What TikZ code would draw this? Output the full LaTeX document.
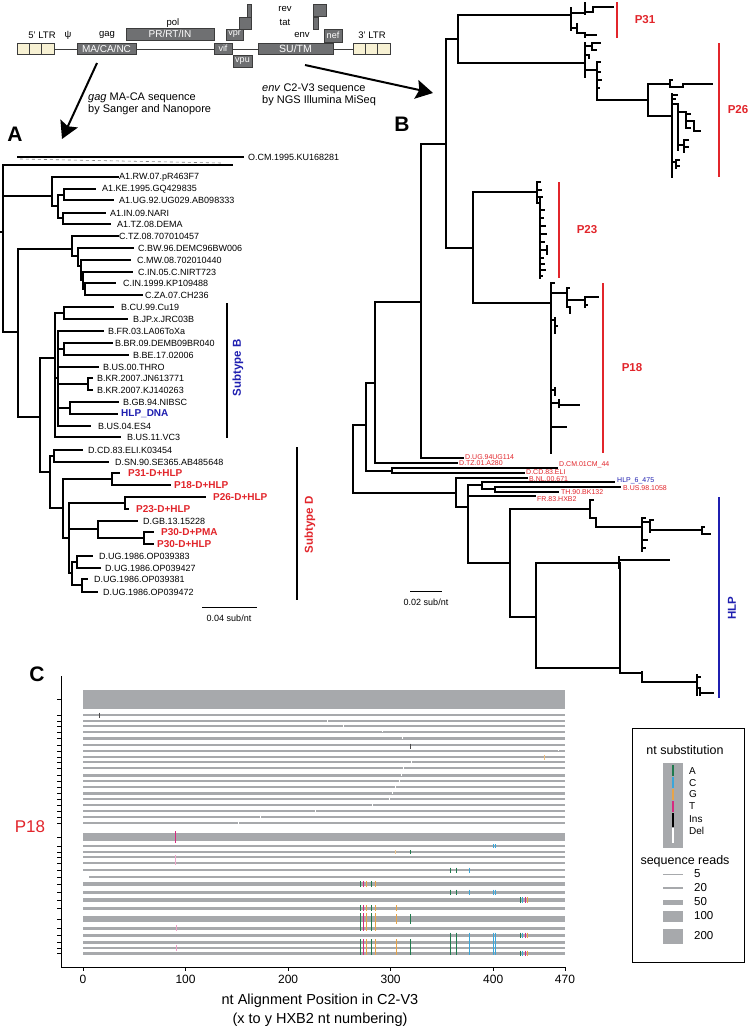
\documentclass[tikz,border=0pt]{standalone}
\usepackage{fontspec}
\setmainfont{Liberation Sans}
\usetikzlibrary{arrows.meta}
\definecolor{redlab}{HTML}{E2252B}
\definecolor{bluelab}{HTML}{1F1FB0}
\definecolor{genegray}{HTML}{6F7072}
\definecolor{geneedge}{HTML}{3C3C3C}
\definecolor{ltrfill}{HTML}{F7F1D3}
\definecolor{readgray}{HTML}{A7A9AC}
\definecolor{cA}{HTML}{1F7A4D}
\definecolor{cC}{HTML}{3AA6DA}
\definecolor{cG}{HTML}{E8A448}
\definecolor{cT}{HTML}{D62A80}
\newcommand\trh[3]{\draw[tr] (#1,#3) -- (#2,#3);}
\newcommand\trv[3]{\draw[tr] (#1,#2) -- (#1,#3);}
\newcommand\mk[4]{\draw[#4, line width=0.9pt] (#1,#2-#3) -- (#1,#2+#3);}
\newcommand\gOne[2]{\mk{360}{#1}{#2}{cA}\mk{363}{#1}{#2}{cT}\mk{366}{#1}{#2}{cG}\mk{371}{#1}{#2}{cA}\mk{375}{#1}{#2}{cG}}
\newcommand\gThree[2]{\mk{450}{#1}{#2}{cA}\mk{456}{#1}{#2}{cA}\mk{469}{#1}{#2}{cC}}
\newcommand\gFour[2]{\mk{493}{#1}{#2}{cC}\mk{495.5}{#1}{#2}{cC}}
\newcommand\gFive[2]{\mk{520}{#1}{#2}{cA}\mk{522.5}{#1}{#2}{cC}\mk{525}{#1}{#2}{cT}\mk{527.5}{#1}{#2}{cG}}
\begin{document}
\begin{tikzpicture}[x=1pt,y=-1pt,
  tr/.style={line width=1.1pt, black, line cap=rect},
  taxA/.style={anchor=west, inner sep=0pt, font=\fontsize{9}{10}\selectfont},
  taxAr/.style={anchor=west, inner sep=0pt, text=redlab, font=\fontsize{10}{11}\selectfont\bfseries},
  taxB/.style={anchor=west, inner sep=0pt, text=redlab, font=\fontsize{7}{8}\selectfont},
  gene/.style={draw=geneedge, line width=0.6pt, fill=genegray, text=white, inner sep=0pt, font=\fontsize{9}{10}\selectfont},
  ltr/.style={draw=geneedge, line width=0.6pt, fill=ltrfill, minimum width=12.33pt, minimum height=11pt, inner sep=0pt},
  glab/.style={inner sep=0pt, font=\fontsize{9.5}{10}\selectfont},
  panel/.style={inner sep=0pt, font=\fontsize{21}{21}\selectfont\bfseries},
  clab/.style={inner sep=0pt, font=\fontsize{11.5}{12}\selectfont\bfseries, rotate=90},
  plab/.style={inner sep=0pt, text=redlab, font=\fontsize{11.5}{12}\selectfont\bfseries},
  bigarrow/.style={line width=2pt, -{Stealth[length=17pt,width=19pt,inset=3pt]}},
  leg/.style={inner sep=0pt, font=\fontsize{12.5}{13}\selectfont},
  legs/.style={anchor=west, inner sep=0pt, font=\fontsize{10}{11}\selectfont}
]
\useasboundingbox (0,0) rectangle (750,1031);
\fill[white] (0,0) rectangle (750,1031);

% ================= genome map =================
\draw[geneedge, line width=0.8pt] (54,49) -- (77,49) (136,49) -- (214,49) (232,49) -- (258,49) (333,49) -- (353,49);
\foreach \i/\x in {1/23.2,2/35.5,3/47.8} {\node[ltr] (l5\i) at (\x,48.5) {};}
\foreach \i/\x in {1/359.2,2/371.5,3/383.8} {\node[ltr] (l3\i) at (\x,48.5) {};}
\node[gene, minimum width=59pt, minimum height=11pt, font=\fontsize{10}{10}\selectfont] (ma) at (106.5,48.5) {MA/CA/NC};
\node[gene, minimum width=88pt, minimum height=12pt, font=\fontsize{10}{10}\selectfont] (pr) at (170,34) {PR/RT/IN};
\node[gene, minimum width=12pt, minimum height=12pt] (vpr2) at (245,23) {};
\node[gene, minimum width=4pt, minimum height=13pt] (vpr3) at (249,10.5) {};
\node[gene, minimum width=17pt, minimum height=11pt] (vpr) at (234.5,34.5) {vpr};
\node[gene, minimum width=18pt, minimum height=11pt] (vif) at (223,48.5) {vif};
\node[gene, minimum width=19pt, minimum height=12pt] (vpu) at (242.5,61) {vpu};
\node[gene, minimum width=75pt, minimum height=11pt, font=\fontsize{10.5}{10}\selectfont] (su) at (295.5,48.5) {SU/TM};
\node[gene, minimum width=18pt, minimum height=13pt] (nef) at (333,35.5) {nef};
\node[gene, minimum width=13pt, minimum height=12pt] (rev) at (319.5,10) {};
\node[gene, minimum width=5pt, minimum height=12pt] (tat) at (315.5,23) {};
\node[glab] (t5) at (42,35) {5' LTR};
\node[glab] (tpsi) at (68,35) {ψ};
\node[glab] (tgag) at (107,35) {gag};
\node[glab] (tpol) at (173,23) {pol};
\node[glab] (tenv) at (302,35) {env};
\node[glab] (trev) at (285,9) {rev};
\node[glab] (ttat) at (285,22) {tat};
\node[glab] (t3) at (372,35) {3' LTR};

% arrows
\coordinate (aA0) at (97,63); \coordinate (aA1) at (62,139);
\coordinate (aB0) at (305,65); \coordinate (aB1) at (433,93);
\draw[bigarrow] (aA0) -- (aA1);
\draw[bigarrow] (aB0) -- (aB1);
\node[anchor=west, inner sep=0pt, font=\fontsize{11}{12}\selectfont] (txA1) at (88,98) {\textit{gag} MA-CA sequence};
\node[anchor=west, inner sep=0pt, font=\fontsize{11}{12}\selectfont] (txA2) at (88,110) {by Sanger and Nanopore};
\node[anchor=west, inner sep=0pt, font=\fontsize{11}{12}\selectfont] (txB1) at (262,89) {\textit{env} C2-V3 sequence};
\node[anchor=west, inner sep=0pt, font=\fontsize{11}{12}\selectfont] (txB2) at (262,101) {by NGS Illumina MiSeq};

% panel letters
\node[panel] (pA) at (15,134) {A};
\node[panel] (pB) at (402,124) {B};
\node[panel] (pC) at (37,674) {C};

% ================= tree A =================
\trh{18}{243}{157}
\draw[gray, dashed, line width=0.6pt] (20,159) -- (222,163);
\trh{3}{232}{165}
\trv{3}{165}{332} \trh{0}{3}{232}
\trh{3}{52}{196} \trh{3}{18}{332}
% A1
\trv{52}{177}{206} \trh{52}{118}{177} \trh{52}{58}{206}
\trv{58}{195}{218} \trh{58}{64}{195} \trv{64}{189}{200} \trh{64}{95}{189} \trh{64}{113}{200}
\trh{58}{63}{218} \trv{63}{213}{224} \trh{63}{105}{213} \trh{63}{110}{224}
% main
\trv{18}{249}{417} \trh{18}{72}{249} \trh{18}{40}{417}
% C
\trv{72}{236}{256} \trh{72}{118}{236} \trh{72}{78}{256}
\trv{78}{248}{266} \trh{78}{133}{248} \trh{78}{81}{266}
\trv{81}{260}{280} \trh{81}{130}{260} \trh{81}{83}{280}
\trv{83}{272}{289} \trh{83}{132}{272} \trh{83}{85}{289}
\trv{85}{283}{295} \trh{85}{115}{283} \trh{85}{142}{295}
% B + D
\trv{40}{358}{472} \trh{40}{55}{358} \trh{40}{50}{472}
\trv{55}{313}{437} \trh{55}{64}{313} \trv{64}{307}{319} \trh{64}{113}{307} \trh{64}{127}{319}
\trh{55}{120}{437} \trh{55}{58}{378}
\trv{58}{331}{426} \trh{58}{103}{331}
\trh{58}{64}{349} \trv{64}{343}{355} \trh{64}{112}{343} \trh{64}{128}{355}
\trh{58}{98}{367}
\trh{58}{88}{384} \trv{88}{378}{390} \trh{88}{92}{378} \trh{88}{92}{390}
\trh{58}{70}{408} \trv{70}{402}{414} \trh{70}{118}{402} \trh{70}{117}{414}
\trh{58}{90}{426}
% D
\trv{50}{456}{508} \trh{50}{54}{456} \trv{54}{450}{462} \trh{54}{82}{450} \trh{54}{108}{462}
\trh{50}{63}{508}
\trv{63}{479}{538} \trh{63}{112}{479} \trv{112}{473}{485} \trh{112}{119}{473} \trh{112}{170}{485}
\trh{63}{69}{538}
\trv{69}{503}{573} \trh{69}{125}{503} \trv{125}{497}{509} \trh{125}{205}{497} \trh{125}{128}{509}
\trh{69}{98}{529} \trv{98}{521}{538} \trh{98}{137}{521} \trh{98}{144}{538}
\trv{144}{532}{544} \trh{144}{153}{532} \trh{144}{153}{544}
\trh{69}{72}{573} \trv{72}{562}{585}
\trh{72}{77}{562} \trv{77}{556}{568} \trh{77}{92}{556} \trh{77}{100}{568}
\trh{72}{82}{585} \trv{82}{579}{592} \trh{82}{87}{579} \trh{82}{97}{592}

\foreach \x/\y/\t [count=\i] in {248/157/O.CM.1995.KU168281, 119/177/A1.RW.07.pR463F7,
  102/189/A1.KE.1995.GQ429835, 119/200/A1.UG.92.UG029.AB098333, 110/213/A1.IN.09.NARI,
  117/224/A1.TZ.08.DEMA, 119/236/C.TZ.08.707010457, 138/248/C.BW.96.DEMC96BW006,
  137/260/C.MW.08.702010440, 138/272/C.IN.05.C.NIRT723, 123/283/C.IN.1999.KP109488,
  145/295/C.ZA.07.CH236, 121/307/B.CU.99.Cu19, 133/319/B.JP.x.JRC03B,
  108/331/B.FR.03.LA06ToXa, 115/343/B.BR.09.DEMB09BR040, 133/355/B.BE.17.02006,
  103/367/B.US.00.THRO, 97/378/B.KR.2007.JN613771, 97/390/B.KR.2007.KJ140263,
  123/402/B.GB.94.NIBSC, 98/426/B.US.04.ES4, 127/437/B.US.11.VC3,
  88/450/D.CD.83.ELI.K03454, 115/462/D.SN.90.SE365.AB485648, 143/521/D.GB.13.15228,
  99/556/D.UG.1986.OP039383, 105/568/D.UG.1986.OP039427, 94/579/D.UG.1986.OP039381,
  103/592/D.UG.1986.OP039472}
  {\node[taxA] (ta\i) at (\x,\y) {\t};}
\foreach \x/\y/\t [count=\i] in {128/473/P31-D+HLP, 174/485/P18-D+HLP, 213/497/P26-D+HLP,
  136/509/P23-D+HLP, 161/532/P30-D+PMA, 157/544/P30-D+HLP}
  {\node[taxAr] (tr\i) at (\x,\y) {\t};}
\node[taxAr, text=bluelab] (thlp) at (121,414) {HLP\_DNA};

% subtype bars
\draw[line width=2.2pt] (227,303) -- (227,438);
\node[clab, text=bluelab] (sB) at (238,368) {Subtype B};
\draw[line width=2.2pt] (297,447) -- (297,600);
\node[clab, text=redlab] (sD) at (310,525) {Subtype D};
% scale A
\draw[line width=1pt] (202,607) -- (257,607);
\node[inner sep=0pt, font=\fontsize{9}{10}\selectfont] (scA) at (229,618) {0.04 sub/nt};

% ================= tree B =================
\trv{353}{425}{493} \trh{353}{366}{425} \trh{353}{456}{493}
\trv{366}{383}{471} \trh{366}{375}{383} \trh{366}{392}{471}
\trv{392}{468}{473} \trh{392}{557}{468} \trh{392}{524}{473}
\trv{375}{302}{463} \trh{375}{421}{302} \trh{375}{457}{463}
\trv{421}{144}{458} \trh{421}{446}{144} \trh{421}{463}{458}
\trv{446}{39}{248} \trh{446}{458}{39} \trh{446}{473}{248}
\trv{458}{15}{63} \trh{458}{571}{15} \trh{458}{585}{63}
\trv{473}{192}{303} \trh{473}{537}{192} \trh{473}{550}{303}
% P31
\trv{571}{8}{30}
\trh{571}{585}{13} \trv{585}{3}{14} \trh{585}{593}{12} \trv{593}{7}{12} \trh{593}{613}{7}
\trh{571}{577}{28} \trv{577}{24}{33} \trh{577}{585}{33} \trv{585}{33}{37} \trh{585}{596}{35}
% P26
\trv{585}{43}{77}
\trh{585}{592}{46} \trv{592}{43}{50} \trh{592}{600}{43} \trh{592}{596}{50}
\trh{585}{589}{55} \trv{589}{55}{58}
\trh{585}{597}{70}
\trv{597}{62}{100} \trh{597}{600}{62} \trh{597}{600}{72} \trh{597}{601}{80} \trh{597}{599}{88}
\trh{597}{648}{100}
\trv{648}{84}{116} \trh{648}{670}{84} \trv{670}{80}{87} \trh{670}{672}{80} \trh{670}{683}{87}
\trv{683}{84}{87} \trh{683}{712}{84}
\trh{648}{672}{116}
\trv{672}{94}{177} \trh{672}{677}{95} \trh{672}{675}{99}
\trh{672}{678}{104} \trv{678}{104}{150}
\trh{678}{686}{112} \trv{686}{112}{128} \trh{686}{690}{114} \trh{686}{694}{121} \trv{694}{121}{131} \trh{694}{700}{131} \trh{686}{690}{128}
\trh{678}{684}{145} \trv{684}{140}{152} \trh{684}{688}{140} \trh{684}{688}{147}
\trh{672}{676}{162} \trv{676}{160}{168} \trh{676}{679}{160} \trh{676}{679}{166}
% P23
\trv{537}{182}{203} \trh{537}{540}{182} \trh{537}{541}{190} \trh{537}{542}{197} \trh{537}{540}{203}
\trv{540}{197}{278}
\foreach \y/\l in {210/4,218/3,226/5,234/6,242/4,250/7,258/3,264/4,270/5,276/2} {\draw[tr] (540,\y) -- ++(\l,0);}
\trv{547}{246}{254}
% P18
\trv{551}{283}{453} \trh{551}{554}{283}
\trh{551}{567}{293} \trv{567}{288}{307} \trh{567}{569}{288}
\trh{567}{585}{300} \trv{585}{297}{307} \trh{585}{598}{297} \trh{585}{587}{305} \trh{567}{570}{307} \trv{570}{307}{313}
\trh{551}{555}{320} \trv{555}{318}{333} \trh{555}{557}{326}
\trh{551}{555}{390} \trv{555}{388}{395}
\trh{551}{559}{403} \trv{559}{400}{407} \trh{559}{579}{405}
\trh{551}{566}{427}
% HLP + refs
\trv{456}{478}{507} \trh{456}{527}{478} \trh{456}{468}{507}
\trv{468}{485}{563} \trh{468}{482}{485} \trh{468}{535}{496} \trh{468}{510}{563}
\trv{482}{482}{489} \trh{482}{614}{482} \trh{482}{495}{489}
\trv{495}{487}{492} \trh{495}{620}{487} \trh{495}{558}{492}
\trv{510}{509}{617} \trh{510}{590}{509} \trh{510}{536}{617}
\trv{590}{500}{518} \trh{590}{593}{500} \trh{590}{596}{518} \trv{596}{518}{527} \trh{596}{642}{527}
\trv{642}{518}{551} \trh{642}{645}{518} \trh{642}{650}{522} \trv{650}{520}{532}
\trh{650}{653}{520} \trh{650}{655}{530} \trh{655}{702}{530} \trv{702}{527}{534} \trh{702}{704}{527} \trh{702}{710}{534}
\trh{642}{647}{540} \trh{642}{645}{548}
\trv{536}{563}{668} \trh{536}{620}{563} \trh{536}{620}{668}
\trv{619}{557}{568} \trh{619}{669}{560}
\trv{620}{563}{673} \trh{620}{642}{673}
\trv{642}{672}{682} \trh{642}{697}{682}
\trv{697}{675}{695} \trh{697}{700}{677} \trh{697}{700}{688} \trv{700}{688}{695} \trh{700}{713}{693}

\foreach \x/\y/\t [count=\i] in {465/457/D.UG.94UG114, 459/463/D.TZ.01.A280,
  559/465/D.CM.01CM\_44, 526/472.5/D.CD.83.ELI, 529/479.5/B.NL.00.671,
  623/488/B.US.98.1058, 561/492/TH.90.BK132, 537/499.5/FR.83.HXB2}
  {\node[taxB] (tb\i) at (\x,\y) {\t};}
\node[taxB, text=bluelab] (tbh) at (617,481) {HLP\_6\_475};

% clade bars
\draw[redlab, line width=1.1pt] (617,2) -- (617,38);
\node[plab] (c31) at (645,20) {P31};
\draw[redlab, line width=1.1pt] (719,43) -- (719,177);
\node[plab] (c26) at (738,110) {P26};
\draw[redlab, line width=1.1pt] (559,182) -- (559,278);
\node[plab] (c23) at (587,230) {P23};
\draw[redlab, line width=1.1pt] (603,283) -- (603,453);
\node[plab] (c18) at (632,368) {P18};
\draw[bluelab, line width=1.1pt] (719,497) -- (719,698);
\node[clab, text=bluelab] (chlp) at (732,608) {HLP};
% scale B
\draw[line width=1pt] (410,591) -- (442,591);
\node[inner sep=0pt, font=\fontsize{9}{10}\selectfont] (scB) at (426,602) {0.02 sub/nt};

% ================= panel C =================
\fill[readgray] (83,690) rectangle (565,709);
\foreach \y/\w in {715/2.2,721/2.2,726/2.4,732/2.2,738/3,745/2.2,751/2.2,757/2.2,762/2.2,768/2.2,775/3,781/2.2,787/2.2,793/3,799/2.2,805/2.2,811/2.2,817/2.2,823/2.2,
  846/2.2,852/2.4,857/2.2,863/2.2,870/2.4,884/3.5,892/3,900/3.5,908/3,919/6.5,928/3,935/3,942/3,948/2.5,953/3}
  {\draw[readgray, line width=\w pt] (83,\y) -- (565,\y);}
\draw[readgray, line width=2.2pt] (89,877) -- (565,877);
\fill[readgray] (83,833) rectangle (565,841);
% marks
\mk{99}{715}{2.5}{black!70}
\mk{410}{746}{2.5}{black!70}
\mk{544}{757}{2.5}{cG!70}
\foreach \x/\y in {327/721,343/726,382/731,402/738,558/750,411/762,403/768,401/775,399/781,395/787,392/793,389/799,372/805,315/811,260/817,238/823}
  {\mk{\x}{\y}{1.3}{white}}
\mk{175}{837}{6}{cT}
\mk{175}{860}{5}{cT!40}
\gFour{846}{2}
\mk{395}{852}{2}{cG!60}
\mk{410}{852}{2}{cA}
\gThree{870}{2.5}
\gOne{884}{3}
\gThree{892}{2.5}
\gFour{892}{2.5}
\gFive{900}{3}
\gOne{908}{3}
\mk{396}{908}{3}{cG}
\gOne{922}{9}
\mk{396}{919}{5}{cG}
\mk{410}{919}{5}{cA}
\mk{176}{928}{3}{cT!45}
\gThree{935}{2.5}
\gFour{935}{2.5}
\gFive{935}{2.5}
\gOne{947}{8}
\mk{396}{947}{8}{cG}
\mk{410}{947}{8}{cA}
\gThree{945}{10}
\gFour{945}{10}
\gFive{953}{2.5}
\mk{176}{948}{3}{cT!45}
% axes
\draw[line width=0.9pt] (61,676) -- (61,967) -- (565,967);
\foreach \y in {699,715,721,726,732,738,745,751,757,762,768,775,781,787,793,799,805,811,817,823,837,846,852,857,863,870,877,884,892,900,908,919,928,935,942,948,953}
  {\draw[line width=0.7pt] (57,\y) -- (61,\y);}
\foreach \p [count=\i] in {0,100,200,300,400,470} {
  \draw[line width=0.8pt] (83+\p*1.0255,967) -- (83+\p*1.0255,971);
  \node[inner sep=0pt, font=\fontsize{12}{13}\selectfont] (xt\i) at (83+\p*1.0255,979) {\p};
}
\node[inner sep=0pt, font=\fontsize{14.5}{15}\selectfont] (xl1) at (320,1001) {nt Alignment Position in C2-V3};
\node[inner sep=0pt, font=\fontsize{14.5}{15}\selectfont] (xl2) at (320,1020) {(x to y HXB2 nt numbering)};
\node[inner sep=0pt, text=redlab, font=\fontsize{17}{18}\selectfont] (p18) at (30,827) {P18};

% legend
\draw[line width=0.8pt] (632,728) rectangle (744,962);
\node[leg] (lg1) at (685,750) {nt substitution};
\fill[readgray] (663,763) rectangle (683,848);
\draw[cA, line width=1.6pt] (673,765) -- (673,776);
\draw[cC, line width=1.6pt] (673,777) -- (673,788);
\draw[cG, line width=1.6pt] (673,789) -- (673,800);
\draw[cT, line width=1.6pt] (673,801) -- (673,812);
\draw[black, line width=1.6pt] (673,813) -- (673,827);
\draw[white, line width=1.6pt] (673,828) -- (673,843);
\foreach \y/\t [count=\i] in {771/A,783/C,794/G,806/T,819/Ins,831/Del}
  {\node[legs] (ln\i) at (689,\y) {\t};}
\node[leg] (lg2) at (685,861) {sequence reads};
\foreach \y/\w/\t [count=\i] in {874/0.7/5,888/2.2/20,902/5/50,916/11/100,936/15/200}
  {\draw[readgray, line width=\w pt] (663,\y) -- (683,\y);
   \node[anchor=west, inner sep=0pt, font=\fontsize{11.5}{12}\selectfont] (lr\i) at (694,\y) {\t};}
\end{tikzpicture}
\end{document}
